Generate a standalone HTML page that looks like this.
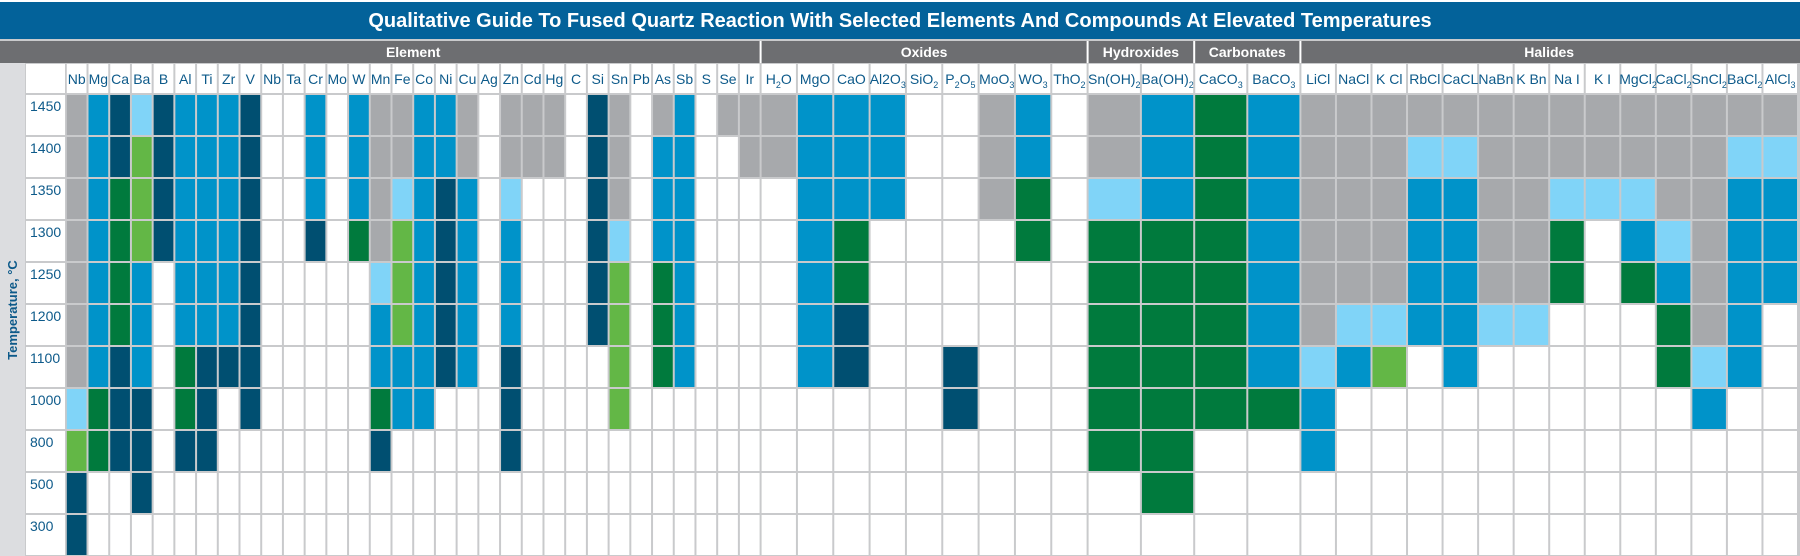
<!DOCTYPE html>
<html><head><meta charset="utf-8">
<style>
html,body{margin:0;padding:0;background:#fff;}
svg{display:block;font-family:"Liberation Sans Narrow","Liberation Sans",sans-serif;}
</style></head>
<body>
<svg id="chart" width="1800" height="556" viewBox="0 0 1800 556">
  <rect x="0" y="0" width="1800" height="556" fill="#c9cacc"/>
  <rect x="0" y="0" width="1800" height="39" fill="#ffffff"/>
  <rect x="0" y="2" width="1800" height="37" fill="#03629a"/>
  <text x="900" y="27" text-anchor="middle" fill="#ffffff" font-family="Liberation Sans, sans-serif" font-weight="bold" font-size="20">Qualitative Guide To Fused Quartz Reaction With Selected Elements And Compounds At Elevated Temperatures</text>
  <rect x="0" y="41" width="1800" height="22" fill="#6d6e71"/>
  <rect x="0" y="63" width="25" height="493" fill="#dcdde0"/>
  <text transform="translate(17,310) rotate(-90)" text-anchor="middle" fill="#0d5a8a" font-family="Liberation Sans, sans-serif" font-weight="bold" font-size="13">Temperature, °C</text>
  <g id="cells"></g>
</svg>
<script>
// ---- data ----
const temps = ["1450","1400","1350","1300","1250","1200","1100","1000","800","500","300"];
const groups = ["Element","Oxides","Hydroxides","Carbonates","Halides"];
const elementCats = ["Nb","Mg","Ca","Ba","B","Al","Ti","Zr","V","Nb","Ta","Cr","Mo","W","Mn","Fe","Co","Ni","Cu","Ag","Zn","Cd","Hg","C","Si","Sn","Pb","As","Sb","S","Se","Ir"];
const oxideCats = ["H_2O","MgO","CaO","Al2O_3","SiO_2","P_2O_5","MoO_3","WO_3","ThO_2"];
const hydroxideCats = ["Sn(OH)_2","Ba(OH)_2"];
const carbonateCats = ["CaCO_3","BaCO_3"];
const halideCats = ["LiCl","NaCl","K Cl","RbCl","CaCL","NaBn","K Bn","Na I","K I","MgCl_2","CaCl_2","SnCl_2","BaCl_2","AlCl_3"];
// codes per column, top (1450) to bottom (300): G gray, B blue, D navy, L light blue, E green, F light green, . none
const elementVals = ["GGGGGGGLFDD","BBBBBBBEE..","DDEEEEDDD..","LFFFBBBDDD.","DDDD.......","BBBBBBEED..","BBBBBBDDD..","BBBBBBD....","DDDDDDDD...","...........","...........","BBBD.......","...........","BBBE.......","GGGGLBBED..","GGLFFFBB...","BBBBBBBB...","BBDDDDD....","GGBBBBB....","...........","GGLBBBDDD..","GG.........","GG.........","...........","DDDDDD.....","GGGLFFFF...","...........","GBBBEEE....","BBBBBBB....","...........","G..........","GG........."];
const oxideVals = ["GG.........","BBBBBBB....","BBBEEDD....","BBB........","...........","......DD...","GGG........","BBEE.......","..........."];
const hydroxideVals = ["GGLEEEEEE..","BBBEEEEEEE."];
const carbonateVals = ["EEEEEEEE...","BBBBBBBE..."];
const halideVals = ["GGGGGGLBB..","GGGGGLB....","GGGGGLF....","GLBBBB.....","GLBBBBB....","GGGGGL.....","GGGGGL.....","GGLEE......","GGL........","GGLBE......","GGGLBEE....","GGGGGGLB...","GLBBBBB....","GLBBB......"];

// ---- layout (not data) ----
const palette = {G:"#a7a9ac",B:"#0093c9",D:"#004f71",L:"#80d4f8",E:"#007a3d",F:"#63b746",".":"#ffffff"};
const groupCats = [elementCats, oxideCats, hydroxideCats, carbonateCats, halideCats];
const groupVals = [elementVals, oxideVals, hydroxideVals, carbonateVals, halideVals];
const groupX = [65.8, 760.6, 1087.6, 1194.2, 1300.4, 1798];
const rowTop = 94, rowH = 42, hdrTop = 63, hdrH = 31;
function yOf(i){ return rowTop + i*rowH; }

const NS = "http://www.w3.org/2000/svg";
const g = document.getElementById("cells");
function mk(tag, attrs){ const e = document.createElementNS(NS, tag); for (const k in attrs) e.setAttribute(k, attrs[k]); return e; }

// row label column
const lblBg = mk("rect",{x:26,y:hdrTop+1,width:39,height:556-hdrTop-1,fill:"#c9cacc"});


g.appendChild(lblBg);
const corner = mk("rect",{x:26,y:hdrTop+1,width:39,height:hdrH-2,fill:"#ffffff"});


g.appendChild(corner);
temps.forEach((t,i)=>{
  const r = mk("rect",{x:26,y:yOf(i)+1,width:39,height:rowH-2,fill:"#ffffff"});
  
  
  g.appendChild(r);
  const tx = mk("text",{x:30,y:yOf(i)+17,fill:"#0d5a8a","font-size":14,"font-family":"Liberation Sans, sans-serif"});
  tx.textContent = t;
  
  
  g.appendChild(tx);
});

function addLabel(parent, label, cx, y){
  const tx = mk("text",{x:cx,y:y,"text-anchor":"middle",fill:"#0d5a8a","font-size":14});
  const parts = label.split(/(_\d)/);
  parts.forEach(p=>{
    if (!p) return;
    const ts = mk("tspan",{});
    if (p[0]==="_"){ ts.textContent = p[1]; ts.setAttribute("font-size","9"); ts.setAttribute("dy","4"); }
    else { ts.textContent = p; if (parent._sub) ts.setAttribute("dy","-4"); }
    parent._sub = p[0]==="_";
    tx.appendChild(ts);
  });
  parent._sub = false;
  
  
  parent.appendChild(tx);
}

groups.forEach((gname, gi)=>{
  const x0 = groupX[gi], x1 = groupX[gi+1];
  const cats = groupCats[gi], vals = groupVals[gi];
  const w = (x1 - x0) / cats.length;
  // group header
  const gt = mk("text",{x:(x0+x1)/2,y:57,"text-anchor":"middle",fill:"#ffffff","font-weight":"bold","font-size":14,"font-family":"Liberation Sans, sans-serif"});
  gt.textContent = gname;
  
  
  g.appendChild(gt);
  if (gi > 0){
    const sep = mk("rect",{x:x0-1,y:41,width:2,height:22,fill:"#ffffff"});
    
    
    g.appendChild(sep);
  }
  cats.forEach((c, ci)=>{
    const x = x0 + ci*w;
    const hr = mk("rect",{x:x+1,y:hdrTop+1,width:w-2,height:hdrH-2,fill:"#ffffff"});
    
    
    g.appendChild(hr);
    addLabel(g, c, x + w/2, hdrTop + 21);
    temps.forEach((t, ri)=>{
      const code = vals[ci][ri] || ".";
      const r = mk("rect",{x:x+1,y:yOf(ri)+1,width:w-2,height:rowH-2,fill:palette[code]});
      
      
      g.appendChild(r);
    });
  });
});
</script>
</body></html>
